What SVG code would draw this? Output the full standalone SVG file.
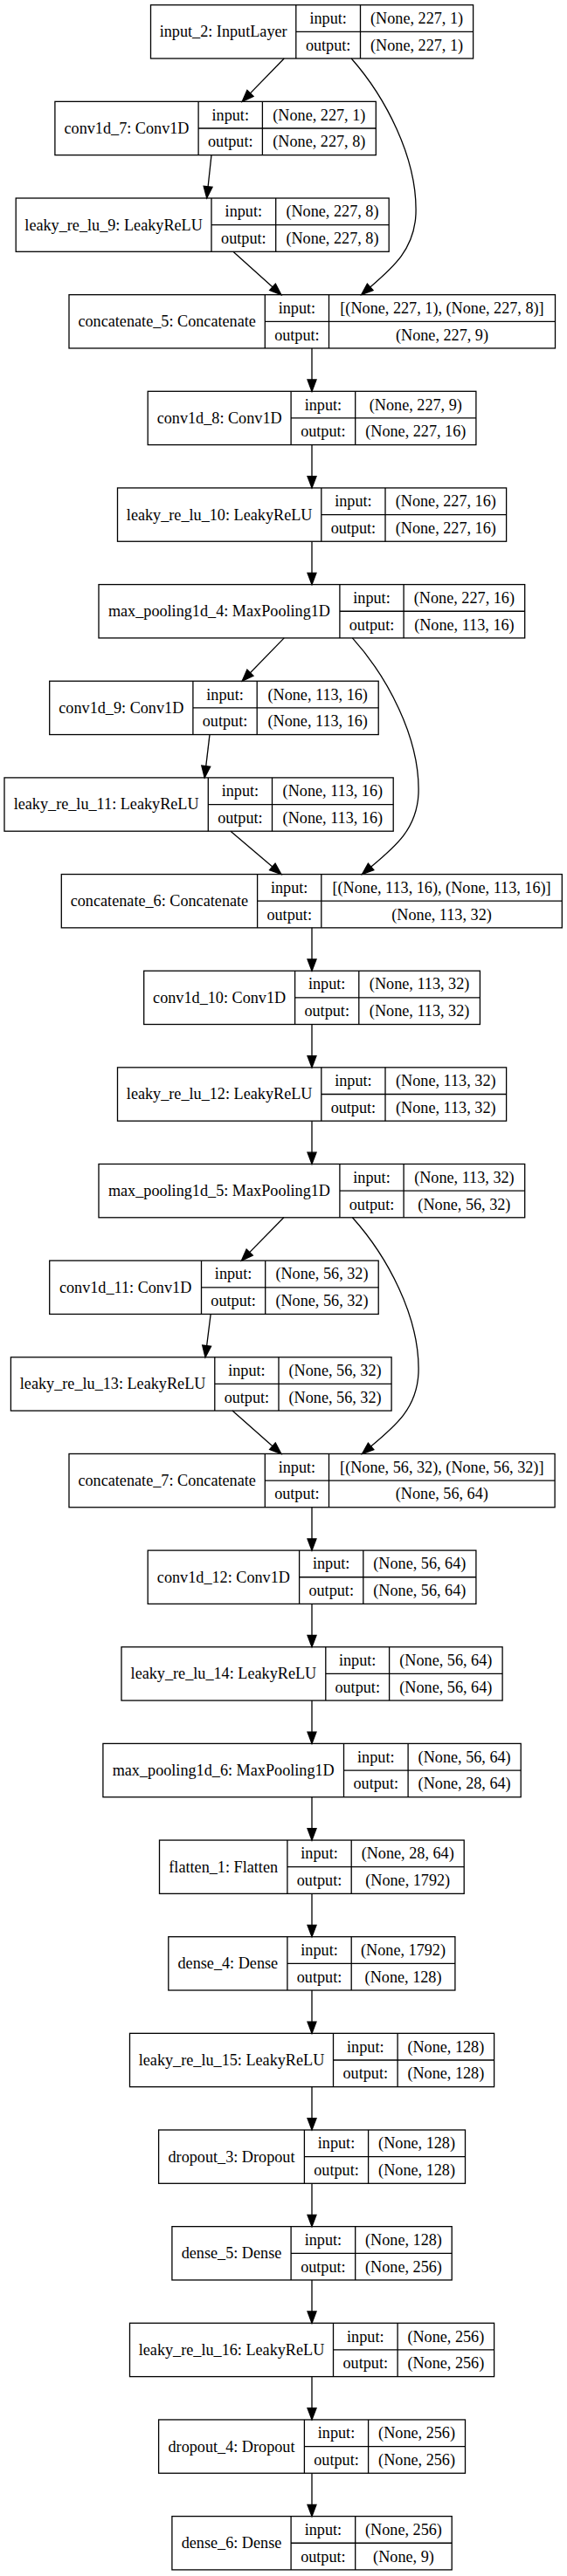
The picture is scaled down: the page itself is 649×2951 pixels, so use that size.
<svg xmlns="http://www.w3.org/2000/svg" width="649" height="2951" viewBox="0 0 649 2951">
<style>
.b{fill:none;stroke:#000;stroke-width:1.3}
.e{fill:none;stroke:#000;stroke-width:1.3;marker-end:url(#ah)}
text{font-family:"Liberation Serif","Times New Roman",serif;font-size:18.2px;text-anchor:middle;fill:#000}
</style>
<defs>
<marker id="ah" markerUnits="userSpaceOnUse" markerWidth="16" markerHeight="12" refX="13.3" refY="5" orient="auto" overflow="visible">
<path d="M0,0 L13.3,5 L0,10 z" fill="#000" stroke="#000" stroke-width="1.3"/>
</marker>
</defs>
<rect width="649" height="2951" fill="#fff"/>

<g id="connectors">
<path class="e" d="M325.2,67 L277.2,116.35"/>
<path class="e" d="M242,177.65 L236.7,227"/>
<path class="e" d="M266.9,288.3 L321.9,337.65"/>
<path class="e" d="M402.2,67 C440,110 478,180 476,245 C474,290 445,310 413.7,337.65"/>
<path class="e" d="M357,398.95 L357,448.3"/>
<path class="e" d="M357,509.6 L357,558.95"/>
<path class="e" d="M357,620.25 L357,669.6"/>
<path class="e" d="M325.2,730.9 L277.2,780.25"/>
<path class="e" d="M240,841.55 L234.2,890.9"/>
<path class="e" d="M264,952.2 L321.9,1001.55"/>
<path class="e" d="M403.4,730.9 C442,773.9 481,843.9 479,908.9 C477,953.9 447,973.9 414.5,1001.55"/>
<path class="e" d="M357,1062.85 L357,1112.2"/>
<path class="e" d="M357,1173.5 L357,1222.85"/>
<path class="e" d="M357,1284.15 L357,1333.5"/>
<path class="e" d="M324.8,1394.8 L276.4,1444.15"/>
<path class="e" d="M241.2,1505.45 L235,1554.8"/>
<path class="e" d="M266,1616.1 L321.9,1665.45"/>
<path class="e" d="M403.4,1394.8 C442,1437.8 481,1507.8 479,1572.8 C477,1617.8 447,1637.8 414.5,1665.45"/>
<path class="e" d="M357,1726.75 L357,1776.1"/>
<path class="e" d="M357,1837.4 L357,1886.75"/>
<path class="e" d="M357,1948.05 L357,1997.4"/>
<path class="e" d="M357,2058.7 L357,2108.05"/>
<path class="e" d="M357,2169.35 L357,2218.7"/>
<path class="e" d="M357,2280 L357,2329.35"/>
<path class="e" d="M357,2390.65 L357,2440"/>
<path class="e" d="M357,2501.3 L357,2550.65"/>
<path class="e" d="M357,2611.95 L357,2661.3"/>
<path class="e" d="M357,2722.6 L357,2771.95"/>
<path class="e" d="M357,2833.25 L357,2882.6"/>
</g>

<g id="input_2" transform="translate(0,5.7)">
<rect class="b" x="172.5" y="0" width="369.1" height="61.3"/>
<path class="b" d="M338.8,0V61.3M412.5,0V61.3M338.8,30.65H541.6"/>
<text x="255.65" y="36.6">input_2: InputLayer</text>
<text x="375.65" y="21.3">input:</text><text x="375.65" y="52">output:</text>
<text x="477.05" y="21.3">(None, 227, 1)</text><text x="477.05" y="52">(None, 227, 1)</text>
</g>

<g id="conv1d_7" transform="translate(0,116.35)">
<rect class="b" x="62.9" y="0" width="367.4" height="61.3"/>
<path class="b" d="M227.1,0V61.3M300.4,0V61.3M227.1,30.65H430.3"/>
<text x="145" y="36.6">conv1d_7: Conv1D</text>
<text x="263.75" y="21.3">input:</text><text x="263.75" y="52">output:</text>
<text x="365.35" y="21.3">(None, 227, 1)</text><text x="365.35" y="52">(None, 227, 8)</text>
</g>

<g id="leaky_re_lu_9" transform="translate(0,227)">
<rect class="b" x="18.2" y="0" width="427" height="61.3"/>
<path class="b" d="M242,0V61.3M315.7,0V61.3M242,30.65H445.2"/>
<text x="130.1" y="36.6">leaky_re_lu_9: LeakyReLU</text>
<text x="278.85" y="21.3">input:</text><text x="278.85" y="52">output:</text>
<text x="380.45" y="21.3">(None, 227, 8)</text><text x="380.45" y="52">(None, 227, 8)</text>
</g>

<g id="concatenate_5" transform="translate(0,337.65)">
<rect class="b" x="79" y="0" width="556.5" height="61.3"/>
<path class="b" d="M303.3,0V61.3M376.5,0V61.3M303.3,30.65H635.5"/>
<text x="191.15" y="36.6">concatenate_5: Concatenate</text>
<text x="339.9" y="21.3">input:</text><text x="339.9" y="52">output:</text>
<text x="506" y="21.3">[(None, 227, 1), (None, 227, 8)]</text><text x="506" y="52">(None, 227, 9)</text>
</g>

<g id="conv1d_8" transform="translate(0,448.3)">
<rect class="b" x="169.2" y="0" width="375.7" height="61.3"/>
<path class="b" d="M333.1,0V61.3M406.7,0V61.3M333.1,30.65H544.9"/>
<text x="251.15" y="36.6">conv1d_8: Conv1D</text>
<text x="369.9" y="21.3">input:</text><text x="369.9" y="52">output:</text>
<text x="475.8" y="21.3">(None, 227, 9)</text><text x="475.8" y="52">(None, 227, 16)</text>
</g>

<g id="leaky_re_lu_10" transform="translate(0,558.95)">
<rect class="b" x="134.5" y="0" width="445.1" height="61.3"/>
<path class="b" d="M367.8,0V61.3M441,0V61.3M367.8,30.65H579.6"/>
<text x="251.15" y="36.6">leaky_re_lu_10: LeakyReLU</text>
<text x="404.4" y="21.3">input:</text><text x="404.4" y="52">output:</text>
<text x="510.3" y="21.3">(None, 227, 16)</text><text x="510.3" y="52">(None, 227, 16)</text>
</g>

<g id="max_pooling1d_4" transform="translate(0,669.6)">
<rect class="b" x="113" y="0" width="487.7" height="61.3"/>
<path class="b" d="M388.9,0V61.3M462.1,0V61.3M388.9,30.65H600.7"/>
<text x="250.95" y="36.6">max_pooling1d_4: MaxPooling1D</text>
<text x="425.5" y="21.3">input:</text><text x="425.5" y="52">output:</text>
<text x="531.4" y="21.3">(None, 227, 16)</text><text x="531.4" y="52">(None, 113, 16)</text>
</g>

<g id="conv1d_9" transform="translate(0,780.25)">
<rect class="b" x="56.7" y="0" width="376.5" height="61.3"/>
<path class="b" d="M220.9,0V61.3M294.2,0V61.3M220.9,30.65H433.2"/>
<text x="138.8" y="36.6">conv1d_9: Conv1D</text>
<text x="257.55" y="21.3">input:</text><text x="257.55" y="52">output:</text>
<text x="363.7" y="21.3">(None, 113, 16)</text><text x="363.7" y="52">(None, 113, 16)</text>
</g>

<g id="leaky_re_lu_11" transform="translate(0,890.9)">
<rect class="b" x="5" y="0" width="445.2" height="61.3"/>
<path class="b" d="M238.3,0V61.3M311.5,0V61.3M238.3,30.65H450.2"/>
<text x="121.65" y="36.6">leaky_re_lu_11: LeakyReLU</text>
<text x="274.9" y="21.3">input:</text><text x="274.9" y="52">output:</text>
<text x="380.85" y="21.3">(None, 113, 16)</text><text x="380.85" y="52">(None, 113, 16)</text>
</g>

<g id="concatenate_6" transform="translate(0,1001.55)">
<rect class="b" x="70.3" y="0" width="573" height="61.3"/>
<path class="b" d="M294.6,0V61.3M367.8,0V61.3M294.6,30.65H643.3"/>
<text x="182.45" y="36.6">concatenate_6: Concatenate</text>
<text x="331.2" y="21.3">input:</text><text x="331.2" y="52">output:</text>
<text x="505.55" y="21.3">[(None, 113, 16), (None, 113, 16)]</text><text x="505.55" y="52">(None, 113, 32)</text>
</g>

<g id="conv1d_10" transform="translate(0,1112.2)">
<rect class="b" x="164.7" y="0" width="384.7" height="61.3"/>
<path class="b" d="M337.6,0V61.3M410.8,0V61.3M337.6,30.65H549.4"/>
<text x="251.15" y="36.6">conv1d_10: Conv1D</text>
<text x="374.2" y="21.3">input:</text><text x="374.2" y="52">output:</text>
<text x="480.1" y="21.3">(None, 113, 32)</text><text x="480.1" y="52">(None, 113, 32)</text>
</g>

<g id="leaky_re_lu_12" transform="translate(0,1222.85)">
<rect class="b" x="134.5" y="0" width="445.1" height="61.3"/>
<path class="b" d="M367.8,0V61.3M441,0V61.3M367.8,30.65H579.6"/>
<text x="251.15" y="36.6">leaky_re_lu_12: LeakyReLU</text>
<text x="404.4" y="21.3">input:</text><text x="404.4" y="52">output:</text>
<text x="510.3" y="21.3">(None, 113, 32)</text><text x="510.3" y="52">(None, 113, 32)</text>
</g>

<g id="max_pooling1d_5" transform="translate(0,1333.5)">
<rect class="b" x="113" y="0" width="487.7" height="61.3"/>
<path class="b" d="M388.9,0V61.3M462.1,0V61.3M388.9,30.65H600.7"/>
<text x="250.95" y="36.6">max_pooling1d_5: MaxPooling1D</text>
<text x="425.5" y="21.3">input:</text><text x="425.5" y="52">output:</text>
<text x="531.4" y="21.3">(None, 113, 32)</text><text x="531.4" y="52">(None, 56, 32)</text>
</g>

<g id="conv1d_11" transform="translate(0,1444.15)">
<rect class="b" x="56.7" y="0" width="376.5" height="61.3"/>
<path class="b" d="M230.5,0V61.3M303.7,0V61.3M230.5,30.65H433.2"/>
<text x="143.6" y="36.6">conv1d_11: Conv1D</text>
<text x="267.1" y="21.3">input:</text><text x="267.1" y="52">output:</text>
<text x="368.45" y="21.3">(None, 56, 32)</text><text x="368.45" y="52">(None, 56, 32)</text>
</g>

<g id="leaky_re_lu_13" transform="translate(0,1554.8)">
<rect class="b" x="12.4" y="0" width="435.7" height="61.3"/>
<path class="b" d="M245.8,0V61.3M319,0V61.3M245.8,30.65H448.1"/>
<text x="129.1" y="36.6">leaky_re_lu_13: LeakyReLU</text>
<text x="282.4" y="21.3">input:</text><text x="282.4" y="52">output:</text>
<text x="383.55" y="21.3">(None, 56, 32)</text><text x="383.55" y="52">(None, 56, 32)</text>
</g>

<g id="concatenate_7" transform="translate(0,1665.45)">
<rect class="b" x="79" y="0" width="556.1" height="61.3"/>
<path class="b" d="M303.3,0V61.3M376.5,0V61.3M303.3,30.65H635.1"/>
<text x="191.15" y="36.6">concatenate_7: Concatenate</text>
<text x="339.9" y="21.3">input:</text><text x="339.9" y="52">output:</text>
<text x="505.8" y="21.3">[(None, 56, 32), (None, 56, 32)]</text><text x="505.8" y="52">(None, 56, 64)</text>
</g>

<g id="conv1d_12" transform="translate(0,1776.1)">
<rect class="b" x="169.2" y="0" width="375.7" height="61.3"/>
<path class="b" d="M342.6,0V61.3M415.8,0V61.3M342.6,30.65H544.9"/>
<text x="255.9" y="36.6">conv1d_12: Conv1D</text>
<text x="379.2" y="21.3">input:</text><text x="379.2" y="52">output:</text>
<text x="480.35" y="21.3">(None, 56, 64)</text><text x="480.35" y="52">(None, 56, 64)</text>
</g>

<g id="leaky_re_lu_14" transform="translate(0,1886.75)">
<rect class="b" x="139" y="0" width="436.1" height="61.3"/>
<path class="b" d="M372.8,0V61.3M445.6,0V61.3M372.8,30.65H575.1"/>
<text x="255.9" y="36.6">leaky_re_lu_14: LeakyReLU</text>
<text x="409.2" y="21.3">input:</text><text x="409.2" y="52">output:</text>
<text x="510.35" y="21.3">(None, 56, 64)</text><text x="510.35" y="52">(None, 56, 64)</text>
</g>

<g id="max_pooling1d_6" transform="translate(0,1997.4)">
<rect class="b" x="117.9" y="0" width="478.3" height="61.3"/>
<path class="b" d="M393.5,0V61.3M467.1,0V61.3M393.5,30.65H596.2"/>
<text x="255.7" y="36.6">max_pooling1d_6: MaxPooling1D</text>
<text x="430.3" y="21.3">input:</text><text x="430.3" y="52">output:</text>
<text x="531.65" y="21.3">(None, 56, 64)</text><text x="531.65" y="52">(None, 28, 64)</text>
</g>

<g id="flatten_1" transform="translate(0,2108.05)">
<rect class="b" x="182.5" y="0" width="348.7" height="61.3"/>
<path class="b" d="M328.9,0V61.3M402.2,0V61.3M328.9,30.65H531.2"/>
<text x="255.7" y="36.6">flatten_1: Flatten</text>
<text x="365.55" y="21.3">input:</text><text x="365.55" y="52">output:</text>
<text x="466.7" y="21.3">(None, 28, 64)</text><text x="466.7" y="52">(None, 1792)</text>
</g>

<g id="dense_4" transform="translate(0,2218.7)">
<rect class="b" x="192.8" y="0" width="328.1" height="61.3"/>
<path class="b" d="M328.9,0V61.3M402.2,0V61.3M328.9,30.65H520.9"/>
<text x="260.85" y="36.6">dense_4: Dense</text>
<text x="365.55" y="21.3">input:</text><text x="365.55" y="52">output:</text>
<text x="461.55" y="21.3">(None, 1792)</text><text x="461.55" y="52">(None, 128)</text>
</g>

<g id="leaky_re_lu_15" transform="translate(0,2329.35)">
<rect class="b" x="148.5" y="0" width="417.1" height="61.3"/>
<path class="b" d="M381.5,0V61.3M455.1,0V61.3M381.5,30.65H565.6"/>
<text x="265" y="36.6">leaky_re_lu_15: LeakyReLU</text>
<text x="418.3" y="21.3">input:</text><text x="418.3" y="52">output:</text>
<text x="510.35" y="21.3">(None, 128)</text><text x="510.35" y="52">(None, 128)</text>
</g>

<g id="dropout_3" transform="translate(0,2440)">
<rect class="b" x="181.6" y="0" width="350.9" height="61.3"/>
<path class="b" d="M348.4,0V61.3M421.6,0V61.3M348.4,30.65H532.5"/>
<text x="265" y="36.6">dropout_3: Dropout</text>
<text x="385" y="21.3">input:</text><text x="385" y="52">output:</text>
<text x="477.05" y="21.3">(None, 128)</text><text x="477.05" y="52">(None, 128)</text>
</g>

<g id="dense_5" transform="translate(0,2550.65)">
<rect class="b" x="196.9" y="0" width="320.3" height="61.3"/>
<path class="b" d="M333.1,0V61.3M406.7,0V61.3M333.1,30.65H517.2"/>
<text x="265" y="36.6">dense_5: Dense</text>
<text x="369.9" y="21.3">input:</text><text x="369.9" y="52">output:</text>
<text x="461.95" y="21.3">(None, 128)</text><text x="461.95" y="52">(None, 256)</text>
</g>

<g id="leaky_re_lu_16" transform="translate(0,2661.3)">
<rect class="b" x="148.5" y="0" width="417.1" height="61.3"/>
<path class="b" d="M381.5,0V61.3M455.1,0V61.3M381.5,30.65H565.6"/>
<text x="265" y="36.6">leaky_re_lu_16: LeakyReLU</text>
<text x="418.3" y="21.3">input:</text><text x="418.3" y="52">output:</text>
<text x="510.35" y="21.3">(None, 256)</text><text x="510.35" y="52">(None, 256)</text>
</g>

<g id="dropout_4" transform="translate(0,2771.95)">
<rect class="b" x="181.6" y="0" width="350.9" height="61.3"/>
<path class="b" d="M348.4,0V61.3M421.6,0V61.3M348.4,30.65H532.5"/>
<text x="265" y="36.6">dropout_4: Dropout</text>
<text x="385" y="21.3">input:</text><text x="385" y="52">output:</text>
<text x="477.05" y="21.3">(None, 256)</text><text x="477.05" y="52">(None, 256)</text>
</g>

<g id="dense_6" transform="translate(0,2882.6)">
<rect class="b" x="196.9" y="0" width="320.3" height="61.3"/>
<path class="b" d="M333.1,0V61.3M406.7,0V61.3M333.1,30.65H517.2"/>
<text x="265" y="36.6">dense_6: Dense</text>
<text x="369.9" y="21.3">input:</text><text x="369.9" y="52">output:</text>
<text x="461.95" y="21.3">(None, 256)</text><text x="461.95" y="52">(None, 9)</text>
</g>
</svg>
